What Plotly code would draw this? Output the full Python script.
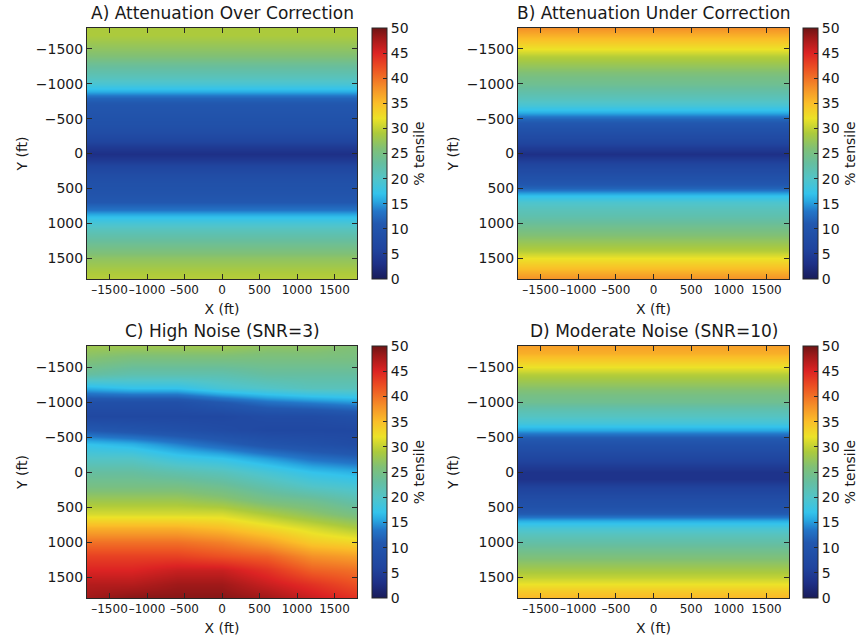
import plotly.graph_objects as go

# ---------------- data ----------------
Y_PROFILE = list(range(-1800, 1801, 100))
X_PROFILE = [-1800, 0, 1800]

A_VALUES = [29, 29, 28, 27, 26, 24, 22.5, 21, 19, 16, 12, 10.5, 10, 9.5, 9, 8, 6.5, 4.5, 3,
            4.5, 6.5, 8, 9, 9.5, 10, 11, 13, 16.5, 19, 21, 22.5, 24, 25.5, 27, 28, 29, 29.5]
B_VALUES = [38, 36, 34, 32, 29.5, 28, 26.5, 25, 24, 22.5, 21, 19, 16, 12, 10, 8.5, 7, 5, 3,
            5, 7, 8.5, 10, 12, 16.5, 19.5, 21, 22, 23.5, 25, 26.5, 28, 29.5, 32, 34, 36, 38]
D_VALUES = [37, 36, 34, 32, 29.5, 28, 26.5, 25, 24, 22, 20.5, 18.5, 15.5, 11.5, 9.5, 8, 6.5, 5, 3.5,
            3.5, 5.5, 7, 8.5, 9.5, 11.5, 16, 19, 21, 22.5, 24, 25.5, 27, 28.5, 30, 32, 34, 35.5]

C_X = [-1800, -1200, -600, 0, 600, 1200, 1800]
C_Y = list(range(-1800, 1801, 200))
C_VALUES = [
    [28, 28, 28, 28, 27, 27, 26],
    [26, 25, 25, 25, 25, 25, 25],
    [23, 22, 22, 22, 23, 23, 23],
    [16, 17, 17, 19, 20, 21, 21],
    [9, 9, 9, 11, 13, 14, 15],
    [7, 7, 7, 7, 8, 8, 9],
    [11, 10, 9, 8, 7, 7, 7],
    [17, 16, 14, 12, 10, 9, 8],
    [20, 20, 18, 17, 15, 13, 12],
    [23, 23, 22, 21, 19, 17, 16],
    [25, 25, 25, 24, 22, 20, 19],
    [28, 28, 28, 27, 25, 24, 22],
    [31, 31, 31, 31, 29, 27, 25],
    [36, 36, 36, 35, 33, 31, 29],
    [40, 40, 40, 39, 37, 34, 33],
    [43, 43, 43, 42, 41, 38, 37],
    [45, 45, 46, 46, 44, 41, 40],
    [47, 47, 48, 48, 46, 44, 42],
    [48, 49, 49, 49, 48, 46, 44],
]

TITLES = ["A) Attenuation Over Correction", "B) Attenuation Under Correction",
          "C) High Noise (SNR=3)", "D) Moderate Noise (SNR=10)"]
AXIS_TICKS = [-1500, -1000, -500, 0, 500, 1000, 1500]
X_TICK_TEXT = ["\u20131500", "\u20131000", "\u2013500", "0", "500", "1000", "1500"]
CB_TICKS = list(range(0, 51, 5))
X_LABEL = "X (ft)"
Y_LABEL = "Y (ft)"
CB_LABEL = "% tensile"

# ---------------- style ----------------
W, H = 861, 641
FONT = "DejaVu Sans"
TXT = "rgb(25,25,25)"

COLORSCALE = [
    [0.00, "rgb(25,28,90)"],
    [0.06, "rgb(30,48,135)"],
    [0.12, "rgb(32,68,158)"],
    [0.22, "rgb(34,88,175)"],
    [0.27, "rgb(35,118,200)"],
    [0.31, "rgb(40,168,225)"],
    [0.34, "rgb(52,195,235)"],
    [0.40, "rgb(82,196,200)"],
    [0.46, "rgb(102,190,160)"],
    [0.52, "rgb(128,192,118)"],
    [0.58, "rgb(172,202,60)"],
    [0.64, "rgb(236,226,40)"],
    [0.70, "rgb(250,190,40)"],
    [0.76, "rgb(245,145,40)"],
    [0.84, "rgb(236,80,35)"],
    [0.90, "rgb(220,35,35)"],
    [0.96, "rgb(160,25,25)"],
    [1.00, "rgb(110,20,20)"],
]

def px_x(p):
    return p / W

def px_y(p):
    return 1 - p / H

# panel boxes in pixels: (left, right, top, bottom)
boxes = [(87, 357, 28, 279), (518, 789, 28, 279), (87, 357, 346, 598), (518, 789, 346, 598)]
cb_left = [372, 803, 372, 803]

def table(profile, ncol):
    return [[v] * ncol for v in profile]

panels = [
    (X_PROFILE, Y_PROFILE, table(A_VALUES, len(X_PROFILE))),
    (X_PROFILE, Y_PROFILE, table(B_VALUES, len(X_PROFILE))),
    (C_X, C_Y, C_VALUES),
    (X_PROFILE, Y_PROFILE, table(D_VALUES, len(X_PROFILE))),
]

fig = go.Figure()
layout = dict(
    width=W, height=H, margin=dict(l=0, r=0, t=0, b=0),
    paper_bgcolor="white", plot_bgcolor="white",
    font=dict(family=FONT, size=13, color=TXT),
    showlegend=False,
)
annotations = []

for i, ((xs, ys, z), (l, r, t, b)) in enumerate(zip(panels, boxes)):
    n = "" if i == 0 else str(i + 1)
    fig.add_trace(go.Heatmap(
        x=xs, y=ys, z=z, zmin=0, zmax=50, zsmooth="best",
        colorscale=COLORSCALE, xaxis="x" + n, yaxis="y" + n,
        colorbar=dict(
            x=px_x(cb_left[i]), xanchor="left", xpad=0, ypad=0,
            y=px_y(b), yanchor="bottom", len=(b - t) / H, lenmode="fraction",
            thickness=15, outlinewidth=1, outlinecolor="rgb(40,40,40)",
            tickvals=CB_TICKS, ticks="inside", ticklen=4, tickcolor="rgb(40,40,40)",
            tickfont=dict(family=FONT, size=14, color=TXT),
            title=dict(text=CB_LABEL, side="right", font=dict(family=FONT, size=14, color=TXT)),
        ),
    ))
    axcommon = dict(
        showline=True, linecolor="rgb(40,40,40)", linewidth=1, mirror="ticks",
        ticks="inside", ticklen=5, tickcolor="rgb(40,40,40)", showgrid=False, zeroline=False,
        tickvals=AXIS_TICKS,
    )
    layout["xaxis" + n] = dict(
        axcommon, domain=[px_x(l), px_x(r)], range=[-1800, 1800], anchor="y" + n,
        ticktext=X_TICK_TEXT, tickangle=0, tickfont=dict(family=FONT, size=12, color=TXT),
        title=dict(text=X_LABEL, standoff=7, font=dict(family=FONT, size=14, color=TXT)),
    )
    layout["yaxis" + n] = dict(
        axcommon, domain=[px_y(b), px_y(t)], range=[1800, -1800], anchor="x" + n,
        tickfont=dict(family=FONT, size=14, color=TXT),
        title=dict(text=Y_LABEL, standoff=4, font=dict(family=FONT, size=14, color=TXT)),
    )
    annotations.append(dict(
        text=TITLES[i], x=px_x((l + r) / 2), y=px_y(t - 3), xref="paper", yref="paper",
        xanchor="center", yanchor="bottom", showarrow=False,
        font=dict(family=FONT, size=17, color=TXT),
    ))

layout["annotations"] = annotations
fig.update_layout(**layout)
fig.write_html("out.html")
